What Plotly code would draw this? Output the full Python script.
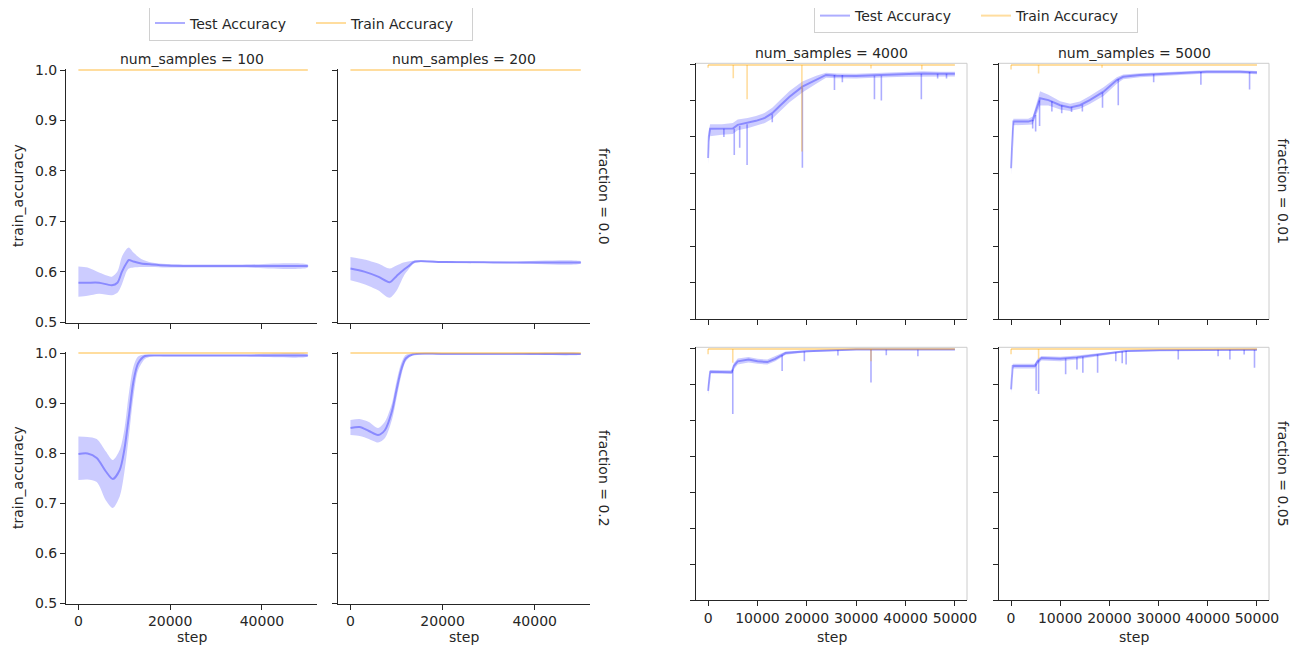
import plotly.graph_objects as go

# ---------------- data ----------------
# Left grid: num_samples 100/200, fraction 0.0/0.2
A_steps = [0, 2000, 4500, 7300, 8500, 9500, 10500, 11000, 12000, 13700, 16000, 19200, 25000, 35000, 50000]
A_mean = [0.578, 0.578, 0.578, 0.573, 0.578, 0.600, 0.617, 0.623, 0.620, 0.616, 0.614, 0.612, 0.611, 0.611, 0.611]
A_hi = [0.610, 0.608, 0.598, 0.590, 0.600, 0.630, 0.645, 0.648, 0.638, 0.625, 0.618, 0.615, 0.614, 0.614, 0.614]
A_lo = [0.550, 0.552, 0.556, 0.553, 0.558, 0.575, 0.600, 0.606, 0.608, 0.609, 0.609, 0.608, 0.608, 0.608, 0.608]

B_steps = [0, 3000, 6000, 8500, 10000, 11500, 12500, 14000, 20000, 35000, 50000]
B_mean = [0.606, 0.600, 0.590, 0.579, 0.591, 0.603, 0.610, 0.620, 0.619, 0.618, 0.618]
B_hi = [0.629, 0.624, 0.616, 0.606, 0.612, 0.618, 0.620, 0.622, 0.621, 0.620, 0.620]
B_lo = [0.583, 0.575, 0.563, 0.548, 0.562, 0.590, 0.603, 0.617, 0.617, 0.616, 0.616]

C_steps = [0, 2000, 4000, 6000, 7500, 9000, 10000, 11000, 12000, 13000, 14500, 16000, 20000, 35000, 50000]
C_mean = [0.798, 0.799, 0.790, 0.763, 0.748, 0.766, 0.806, 0.873, 0.943, 0.979, 0.994, 0.995, 0.995, 0.995, 0.995]
C_hi = [0.833, 0.832, 0.828, 0.803, 0.786, 0.806, 0.846, 0.919, 0.973, 0.993, 0.997, 0.997, 0.997, 0.997, 0.997]
C_lo = [0.746, 0.747, 0.742, 0.705, 0.690, 0.713, 0.760, 0.833, 0.913, 0.965, 0.988, 0.993, 0.993, 0.993, 0.993]

D_steps = [0, 2000, 4000, 6000, 7500, 9000, 10000, 11000, 12000, 13500, 20000, 35000, 50000]
D_mean = [0.850, 0.852, 0.844, 0.836, 0.846, 0.883, 0.926, 0.966, 0.989, 0.997, 0.998, 0.998, 0.998]
D_hi = [0.866, 0.868, 0.862, 0.850, 0.863, 0.899, 0.943, 0.979, 0.996, 0.999, 0.999, 0.999, 0.999]
D_lo = [0.836, 0.834, 0.828, 0.821, 0.830, 0.866, 0.909, 0.953, 0.983, 0.995, 0.997, 0.997, 0.997]

train_left_steps = [0, 50000]
train_left_vals = [1.0, 1.0]

# Right grid: num_samples 4000/5000, fraction 0.01/0.05
E_steps = [0, 150, 400, 2800, 5000, 6000, 8000, 9700, 11500, 13000, 14500, 16500, 19100, 21900, 23900, 26000, 30000, 35000, 40000, 43500, 47000, 50000]
E_mean = [0.742, 0.800, 0.822, 0.822, 0.823, 0.833, 0.838, 0.844, 0.852, 0.865, 0.885, 0.910, 0.938, 0.958, 0.970, 0.968, 0.967, 0.970, 0.972, 0.974, 0.973, 0.973]
E_hi = [0.770, 0.815, 0.835, 0.835, 0.838, 0.848, 0.852, 0.857, 0.866, 0.880, 0.900, 0.926, 0.952, 0.968, 0.976, 0.974, 0.973, 0.976, 0.978, 0.980, 0.979, 0.979]
E_lo = [0.723, 0.785, 0.802, 0.806, 0.808, 0.818, 0.824, 0.830, 0.838, 0.850, 0.870, 0.895, 0.922, 0.946, 0.962, 0.961, 0.960, 0.963, 0.965, 0.967, 0.966, 0.966]
E_spike_steps = [3200, 5300, 6400, 7900, 13000, 19100, 25600, 27200, 33700, 35100, 43200, 46500, 48300]
E_spike_top = [0.822, 0.822, 0.830, 0.835, 0.862, 0.935, 0.970, 0.970, 0.968, 0.968, 0.973, 0.973, 0.973]
E_spike_bot = [0.800, 0.750, 0.770, 0.723, 0.840, 0.715, 0.929, 0.950, 0.903, 0.900, 0.903, 0.960, 0.960]
E_train_spike_steps = [0, 5100, 7900, 19000, 33000, 43300]
E_train_spike_bot = [0.990, 0.961, 0.903, 0.760, 0.988, 0.985]

F_steps = [0, 200, 470, 3500, 4400, 5200, 5900, 7600, 10000, 12000, 14000, 16000, 18800, 21500, 22800, 26200, 33000, 39800, 46500, 50000]
F_mean = [0.714, 0.790, 0.842, 0.842, 0.846, 0.878, 0.906, 0.901, 0.887, 0.881, 0.887, 0.901, 0.924, 0.956, 0.965, 0.970, 0.974, 0.979, 0.979, 0.977]
F_hi = [0.740, 0.810, 0.850, 0.850, 0.856, 0.895, 0.925, 0.916, 0.898, 0.891, 0.897, 0.912, 0.936, 0.964, 0.971, 0.975, 0.978, 0.983, 0.983, 0.981]
F_lo = [0.694, 0.770, 0.832, 0.833, 0.834, 0.860, 0.886, 0.886, 0.875, 0.871, 0.877, 0.890, 0.912, 0.946, 0.958, 0.964, 0.969, 0.974, 0.974, 0.972]
F_spike_steps = [4400, 5000, 5800, 8300, 10300, 12300, 14500, 18600, 21800, 29000, 38600, 48500]
F_spike_top = [0.846, 0.860, 0.900, 0.898, 0.887, 0.881, 0.888, 0.922, 0.958, 0.972, 0.978, 0.978]
F_spike_bot = [0.823, 0.815, 0.830, 0.870, 0.865, 0.868, 0.870, 0.880, 0.887, 0.950, 0.943, 0.930]
F_train_spike_steps = [0, 5600, 18500]
F_train_spike_bot = [0.985, 0.974, 0.990]

G_steps = [0, 150, 420, 4800, 5200, 6000, 8200, 10000, 12000, 13600, 15700, 20000, 25000, 30000, 50000]
G_mean = [0.881, 0.910, 0.934, 0.933, 0.950, 0.963, 0.968, 0.963, 0.961, 0.970, 0.986, 0.991, 0.994, 0.996, 0.996]
G_hi = [0.890, 0.918, 0.939, 0.938, 0.958, 0.971, 0.975, 0.970, 0.968, 0.977, 0.990, 0.994, 0.996, 0.998, 0.998]
G_lo = [0.870, 0.900, 0.929, 0.928, 0.940, 0.954, 0.960, 0.956, 0.954, 0.963, 0.981, 0.988, 0.992, 0.994, 0.994]
G_spike_steps = [5000, 15000, 19500, 26300, 33000, 36100, 42500]
G_spike_top = [0.940, 0.980, 0.990, 0.994, 0.996, 0.996, 0.996]
G_spike_bot = [0.817, 0.936, 0.963, 0.979, 0.904, 0.980, 0.977]
G_train_spike_steps = [0, 5000, 33000]
G_train_spike_bot = [0.983, 0.959, 0.963]

H_steps = [0, 150, 340, 4800, 5400, 6200, 10000, 13400, 17600, 20100, 23400, 30200, 50000]
H_mean = [0.885, 0.920, 0.950, 0.950, 0.963, 0.972, 0.970, 0.974, 0.982, 0.986, 0.992, 0.994, 0.995]
H_hi = [0.892, 0.928, 0.956, 0.956, 0.970, 0.978, 0.976, 0.979, 0.986, 0.989, 0.994, 0.996, 0.997]
H_lo = [0.874, 0.912, 0.943, 0.943, 0.955, 0.965, 0.963, 0.968, 0.977, 0.982, 0.989, 0.992, 0.993]
H_spike_steps = [5100, 5600, 11100, 13400, 14600, 17600, 21300, 22600, 23400, 34000, 42100, 44500, 47400, 49500]
H_spike_top = [0.955, 0.965, 0.971, 0.974, 0.976, 0.982, 0.988, 0.990, 0.992, 0.994, 0.995, 0.995, 0.995, 0.995]
H_spike_bot = [0.881, 0.872, 0.927, 0.940, 0.931, 0.931, 0.963, 0.958, 0.954, 0.968, 0.977, 0.968, 0.982, 0.945]
H_train_spike_steps = [0, 5600]
H_train_spike_bot = [0.983, 0.970]

train_right_steps = [0, 50000]
train_right_vals = [0.997, 0.997]

left_cols = ["num_samples = 100", "num_samples = 200"]
left_rows = ["fraction = 0.0", "fraction = 0.2"]
right_cols = ["num_samples = 4000", "num_samples = 5000"]
right_rows = ["fraction = 0.01", "fraction = 0.05"]
left_xticks = [0, 20000, 40000]
right_xticks = [0, 10000, 20000, 30000, 40000, 50000]
left_yticks = [0.5, 0.6, 0.7, 0.8, 0.9, 1.0]
right_yticks = [0.3, 0.4, 0.5, 0.6, 0.7, 0.8, 0.9, 1.0]

# ---------------- style ----------------
# the page adds an 8px body margin, so the figure is 8px smaller and all
# page-pixel positions are shifted by OFF
OFF = 8
W, H = 1300 - OFF, 647 - OFF
BLUE_LINE = "rgba(0,0,255,0.32)"
BLUE_BAND = "rgba(0,0,255,0.2)"
ORANGE = "rgba(255,165,0,0.38)"
SPINE = "#262626"
TXT = "#262626"
FONT = "DejaVu Sans"

def fx(px):
    return (px - OFF) / W

def fy(py):
    return 1 - (py - OFF) / H

def px_x(a, b):
    return [fx(a), fx(b)]

def px_y(top, bottom):
    return [fy(bottom), fy(top)]

xdom = {1: px_x(66, 317), 2: px_x(338, 590), 3: px_x(66, 317), 4: px_x(338, 590),
        5: px_x(696, 967), 6: px_x(999, 1269), 7: px_x(696, 967), 8: px_x(999, 1269)}
ydom = {1: px_y(68.5, 322.5), 2: px_y(68.5, 322.5), 3: px_y(351.5, 603.5), 4: px_y(351.5, 603.5),
        5: px_y(63.3, 319), 6: px_y(63.3, 319), 7: px_y(347.3, 600), 8: px_y(347.3, 600)}

fig = go.Figure()

def add_panel(i, steps, mean, hi, lo, tr_steps, tr_vals, legend=None, smooth=False,
              sp_steps=None, sp_top=None, sp_bot=None, tsp_steps=None, tsp_bot=None, tsp_top=None):
    xa = "x" if i == 1 else f"x{i}"
    ya = "y" if i == 1 else f"y{i}"
    shape = "spline" if smooth else "linear"
    fig.add_trace(go.Scatter(x=list(steps) + list(steps)[::-1], y=list(hi) + list(lo)[::-1],
                             fill="toself", fillcolor=BLUE_BAND,
                             line=dict(width=0, shape=shape, smoothing=0.8),
                             mode="lines", hoverinfo="skip", showlegend=False, xaxis=xa, yaxis=ya))
    show = legend is not None
    fig.add_trace(go.Scatter(x=steps, y=mean, mode="lines",
                             line=dict(color=BLUE_LINE, width=2, shape=shape, smoothing=0.8),
                             name="Test Accuracy", showlegend=show, legend=legend or "legend",
                             xaxis=xa, yaxis=ya))
    if sp_steps:
        xs, ys = [], []
        for s, t, b in zip(sp_steps, sp_top, sp_bot):
            xs += [s, s, None]
            ys += [t, b, None]
        fig.add_trace(go.Scatter(x=xs, y=ys, mode="lines", line=dict(color=BLUE_LINE, width=1.6),
                                 showlegend=False, hoverinfo="skip", xaxis=xa, yaxis=ya))
    fig.add_trace(go.Scatter(x=tr_steps, y=tr_vals, mode="lines", line=dict(color=ORANGE, width=2),
                             name="Train Accuracy", showlegend=show, legend=legend or "legend",
                             xaxis=xa, yaxis=ya))
    if tsp_steps:
        xs, ys = [], []
        for s, b in zip(tsp_steps, tsp_bot):
            xs += [s, s, None]
            ys += [tsp_top, b, None]
        fig.add_trace(go.Scatter(x=xs, y=ys, mode="lines", line=dict(color=ORANGE, width=1.6),
                                 showlegend=False, hoverinfo="skip", xaxis=xa, yaxis=ya))

add_panel(1, A_steps, A_mean, A_hi, A_lo, train_left_steps, train_left_vals, legend="legend", smooth=True)
add_panel(2, B_steps, B_mean, B_hi, B_lo, train_left_steps, train_left_vals, smooth=True)
add_panel(3, C_steps, C_mean, C_hi, C_lo, train_left_steps, train_left_vals, smooth=True)
add_panel(4, D_steps, D_mean, D_hi, D_lo, train_left_steps, train_left_vals, smooth=True)
add_panel(5, E_steps, E_mean, E_hi, E_lo, train_right_steps, train_right_vals, legend="legend2",
          sp_steps=E_spike_steps, sp_top=E_spike_top, sp_bot=E_spike_bot,
          tsp_steps=E_train_spike_steps, tsp_bot=E_train_spike_bot, tsp_top=train_right_vals[0])
add_panel(6, F_steps, F_mean, F_hi, F_lo, train_right_steps, train_right_vals,
          sp_steps=F_spike_steps, sp_top=F_spike_top, sp_bot=F_spike_bot,
          tsp_steps=F_train_spike_steps, tsp_bot=F_train_spike_bot, tsp_top=train_right_vals[0])
add_panel(7, G_steps, G_mean, G_hi, G_lo, train_right_steps, train_right_vals,
          sp_steps=G_spike_steps, sp_top=G_spike_top, sp_bot=G_spike_bot,
          tsp_steps=G_train_spike_steps, tsp_bot=G_train_spike_bot, tsp_top=train_right_vals[0])
add_panel(8, H_steps, H_mean, H_hi, H_lo, train_right_steps, train_right_vals,
          sp_steps=H_spike_steps, sp_top=H_spike_top, sp_bot=H_spike_bot,
          tsp_steps=H_train_spike_steps, tsp_bot=H_train_spike_bot, tsp_top=train_right_vals[0])

layout = {}
for i in range(1, 9):
    left = i <= 4
    bottom = i in (3, 4, 7, 8)
    first_col = i in (1, 3)
    xk = "xaxis" if i == 1 else f"xaxis{i}"
    yk = "yaxis" if i == 1 else f"yaxis{i}"
    ya = "y" if i == 1 else f"y{i}"
    xa = "x" if i == 1 else f"x{i}"
    xt = left_xticks if left else right_xticks
    layout[xk] = dict(domain=xdom[i], anchor=ya, automargin=False,
                      range=[-2700, 52000] if left else [-2450, 52450],
                      tickvals=xt, ticktext=[str(v) for v in xt],
                      showticklabels=bottom, ticks="outside", ticklen=5, tickcolor=SPINE,
                      showline=True, linecolor=SPINE, linewidth=1, showgrid=False, zeroline=False,
                      tickfont=dict(family=FONT, size=14, color=TXT))
    yt = left_yticks if left else right_yticks
    layout[yk] = dict(domain=ydom[i], anchor=xa, automargin=False,
                      range=[0.499, 1.003] if left else [0.3, 1.002],
                      tickvals=yt, ticktext=[f"{v:.1f}" for v in yt],
                      showticklabels=(left and first_col), ticks="outside", ticklen=5, tickcolor=SPINE,
                      showline=True, linecolor=SPINE, linewidth=1, showgrid=False, zeroline=False,
                      tickfont=dict(family=FONT, size=14, color=TXT))

shapes = []
for i in (5, 6, 7, 8):
    xr = f"x{i} domain"
    yr = f"y{i} domain"
    shapes.append(dict(type="line", xref=xr, yref=yr, x0=0, x1=1, y0=1, y1=1,
                       line=dict(color="#cccccc", width=1)))
    shapes.append(dict(type="line", xref=xr, yref=yr, x0=1, x1=1, y0=0, y1=1,
                       line=dict(color="#cccccc", width=1)))

annotations = []
def ann(text, x, y, angle=0, size=14):
    annotations.append(dict(text=text, x=x, y=y, xref="paper", yref="paper", showarrow=False,
                            xanchor="center", yanchor="middle", textangle=angle,
                            font=dict(family=FONT, size=size, color=TXT)))

lc_px = [(66 + 317) / 2, (338 + 590) / 2]
rc_px = [(696 + 967) / 2, (999 + 1269) / 2]
for t, x in zip(left_cols, lc_px):
    ann(t, fx(x), fy(59))
for t, x in zip(right_cols, rc_px):
    ann(t, fx(x), fy(53))
for t, y in zip(left_rows, [196, 478]):
    ann(t, fx(604), fy(y), angle=90)
    ann("train_accuracy", fx(18), fy(y), angle=-90)
for t, y in zip(right_rows, [191.5, 474]):
    ann(t, fx(1283), fy(y), angle=90)
for x in lc_px + rc_px:
    ann("step", fx(x), fy(637))

legend_style = dict(orientation="h", xanchor="center", yanchor="middle", bgcolor="white",
                    bordercolor="#d0d0d0", borderwidth=1, entrywidth=116, itemwidth=30,
                    font=dict(family=FONT, size=14, color=TXT))

fig.update_layout(
    width=W, height=H, margin=dict(l=0, r=0, t=0, b=0, autoexpand=False),
    paper_bgcolor="white", plot_bgcolor="white",
    showlegend=True,
    legend=dict(x=fx(311), y=fy(23.5), **legend_style),
    legend2=dict(x=fx(976), y=fy(16), **legend_style),
    shapes=shapes, annotations=annotations, **layout,
)

fig.write_html("out.html")
